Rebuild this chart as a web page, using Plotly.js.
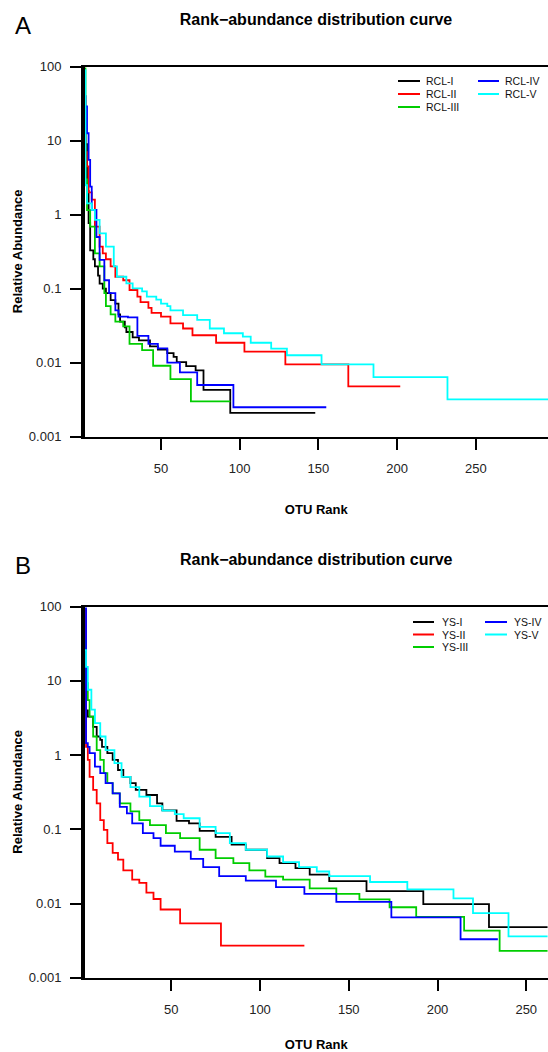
<!DOCTYPE html>
<html><head><meta charset="utf-8">
<script src="https://cdn.plot.ly/plotly-3.0.1.min.js"></script>
<style>html,body{margin:0;padding:0;background:#fff}#chart{width:548px;height:1052px}</style>
</head><body><div id="chart"></div>
<script>
// ---------- DATA ----------
const titleText = 'Rank\u2212abundance distribution curve';
const xTitle = 'OTU Rank';
const yTitle = 'Relative Abundance';
const xTickVals = [50, 100, 150, 200, 250];
const yTickVals = [0.001, 0.01, 0.1, 1, 10, 100];
const yTickText = ['0.001', '0.01', '0.1', '1', '10', '100'];
const colors = ['#000000', '#FF0000', '#00CD00', '#0000FF', '#00FFFF'];

// Panel A
const namesA = ['RCL-I', 'RCL-II', 'RCL-III', 'RCL-IV', 'RCL-V'];
const rcl1Rank = [1,2,3,4,5,7,8,10,11,13,15,18,21,23,24,27,28,32,36,43,48,54,58,60,66,72,77,94,148];
const rcl1Val  = [20,9,2.1,0.77,0.33,0.25,0.2,0.15,0.117,0.1,0.087,0.07,0.063,0.045,0.036,0.03,0.026,0.022,0.02,0.0166,0.015,0.0135,0.012,0.0102,0.009,0.0079,0.0043,0.0021,0.0021];
const rcl2Rank = [1,2,3,4,6,8,11,13,15,18,21,26,30,35,37,42,44,50,56,64,70,85,103,129,169,202];
const rcl2Val  = [40,7,4.5,2,1.6,0.69,0.37,0.3,0.25,0.2,0.145,0.13,0.096,0.078,0.066,0.055,0.047,0.042,0.034,0.029,0.0235,0.0186,0.0141,0.0095,0.0048,0.0048];
const rcl3Rank = [1,2,3,5,8,11,14,15,18,21,26,30,38,45,56,69,94];
const rcl3Val  = [95,3,1.15,0.69,0.3,0.2,0.087,0.058,0.045,0.036,0.031,0.018,0.0148,0.0091,0.006,0.003,0.003];
const rcl4Rank = [1,2,3,4,5,6,9,11,14,17,21,23,29,35,42,48,54,62,73,96,155];
const rcl4Val  = [40,29,12.6,5.5,2.4,1.16,0.5,0.245,0.13,0.087,0.051,0.042,0.041,0.023,0.018,0.0156,0.01,0.0074,0.005,0.0025,0.0025];
const rcl5Rank = [1,2,3,6,8,11,15,20,22,28,32,38,41,47,50,54,56,64,73,81,90,102,107,120,130,152,185,232,296];
const rcl5Val  = [90,2.5,1.42,1.16,0.85,0.56,0.37,0.2,0.145,0.118,0.101,0.092,0.078,0.071,0.063,0.058,0.051,0.044,0.038,0.029,0.025,0.0225,0.0186,0.0155,0.0126,0.0095,0.0064,0.0032,0.0032];

// Panel B
const namesB = ['YS-I', 'YS-II', 'YS-III', 'YS-IV', 'YS-V'];
const ys1Rank = [1,2,3,6,8,10,11,14,17,20,23,27,30,36,42,45,53,60,66,75,84,92,104,111,120,128,139,160,192,229,262];
const ys1Val  = [30,4,3.3,2.4,1.78,1.6,1.29,1.06,0.86,0.63,0.51,0.42,0.34,0.29,0.224,0.18,0.13,0.12,0.095,0.079,0.062,0.053,0.041,0.035,0.03,0.0245,0.02,0.0147,0.0098,0.0048,0.0048];
const ys2Rank = [1,2,3,4,6,8,10,12,14,17,20,23,28,32,36,40,44,55,78,125];
const ys2Val  = [90,1.29,0.86,0.51,0.34,0.224,0.133,0.098,0.065,0.048,0.039,0.028,0.021,0.019,0.014,0.0115,0.0083,0.0054,0.0027,0.0027];
const ys3Rank = [1,2,3,4,6,8,10,12,14,17,21,27,32,38,47,55,66,75,85,94,103,113,128,143,156,173,188,215,235,262];
const ys3Val  = [35,9.3,5.5,3.3,1.78,1.17,0.86,0.57,0.42,0.305,0.224,0.174,0.133,0.114,0.089,0.076,0.053,0.041,0.035,0.028,0.023,0.021,0.016,0.0135,0.0114,0.0089,0.0066,0.0043,0.0023,0.0023];
const ys4Rank = [1,2,3,4,7,10,13,17,21,25,28,34,40,44,52,61,68,77,92,109,125,143,174,213,234];
const ys4Val  = [95,1.45,1.29,1.06,0.7,0.57,0.42,0.305,0.2,0.164,0.12,0.089,0.076,0.06,0.05,0.04,0.031,0.0234,0.0204,0.0166,0.0135,0.0105,0.0065,0.0033,0.0033];
const ys5Rank = [1,2,3,5,7,10,13,18,22,27,32,38,45,52,57,66,75,83,92,104,113,122,132,139,162,183,209,220,240,262];
const ys5Val  = [26,15.5,7.6,4.1,2.7,1.78,1.17,0.78,0.51,0.37,0.275,0.205,0.178,0.16,0.141,0.108,0.089,0.065,0.053,0.043,0.036,0.031,0.027,0.0234,0.0195,0.0155,0.0117,0.0074,0.0036,0.0036];

// ---------- LAYOUT HELPERS ----------
const W = 548, H = 1052;
const FONT = 'Liberation Sans, Arial, sans-serif';
const px = x => x / W;
const py = y => 1 - y / H;

const seriesA = [[rcl1Rank, rcl1Val],[rcl2Rank, rcl2Val],[rcl3Rank, rcl3Val],[rcl4Rank, rcl4Val],[rcl5Rank, rcl5Val]];
const seriesB = [[ys1Rank, ys1Val],[ys2Rank, ys2Val],[ys3Rank, ys3Val],[ys4Rank, ys4Val],[ys5Rank, ys5Val]];

const traces = [];
seriesA.forEach((s, i) => traces.push({x: s[0], y: s[1], name: namesA[i], type: 'scatter', mode: 'lines',
  line: {color: colors[i], width: 1.8, shape: 'hv'}, xaxis: 'x', yaxis: 'y', showlegend: false}));
seriesB.forEach((s, i) => traces.push({x: s[0], y: s[1], name: namesB[i], type: 'scatter', mode: 'lines',
  line: {color: colors[i], width: 1.8, shape: 'hv'}, xaxis: 'x2', yaxis: 'y2', showlegend: false}));

function xAxis(range, anchor, standoff) {
  return {
    domain: [px(84.5), 1], range: range, anchor: anchor, fixedrange: true,
    tickvals: xTickVals, ticks: 'outside', ticklen: 11, tickwidth: 2, tickcolor: '#000',
    showline: true, linewidth: 2, linecolor: '#000', mirror: true,
    showgrid: false, zeroline: false, ticklabelstandoff: 8,
    tickfont: {family: FONT, size: 13, color: '#222'},
    title: {text: xTitle, font: {family: FONT, size: 13, color: '#000', weight: 'bold'}, standoff: standoff}
  };
}
function yAxis(anchor, yTop, yBot) {
  return {
    domain: [py(yBot), py(yTop)], type: 'log', range: [-3, 2], anchor: anchor, fixedrange: true,
    tickvals: yTickVals, ticktext: yTickText, ticks: 'outside', ticklen: 11, tickwidth: 2, tickcolor: '#000',
    showline: true, linewidth: 3.5, linecolor: '#000',
    showgrid: false, zeroline: false, ticklabelstandoff: 6,
    tickfont: {family: FONT, size: 13, color: '#222'}
  };
}

const shapes = [], annotations = [];
function legend(names, lineX, textX, rowsY) {
  const pos = [[0,0],[0,1],[0,2],[1,0],[1,1]];
  names.forEach((n, i) => {
    const c = pos[i][0], r = pos[i][1];
    shapes.push({type: 'line', xref: 'paper', yref: 'paper', x0: px(lineX[c][0]), x1: px(lineX[c][1]),
      y0: py(rowsY[r]), y1: py(rowsY[r]), line: {color: colors[i], width: 2}});
    annotations.push({xref: 'paper', yref: 'paper', x: px(textX[c]), y: py(rowsY[r]), xanchor: 'left', yanchor: 'middle',
      text: n, showarrow: false, font: {family: FONT, size: 10.5, color: '#111'}});
  });
}
legend(namesA, [[398, 420], [478, 499]], [424, 503], [81, 94, 107]);
legend(namesB, [[413, 434], [485, 507]], [440, 512], [622, 634.5, 647]);

// y-axis titles (rotated), panel letters, panel B title
[251.7, 792.2].forEach(yc => annotations.push({xref: 'paper', yref: 'paper', x: px(17.5), y: py(yc),
  xanchor: 'center', yanchor: 'middle', textangle: -90, text: yTitle, showarrow: false,
  font: {family: FONT, size: 13, color: '#000', weight: 'bold'}}));
annotations.push({xref: 'paper', yref: 'paper', x: px(22.7), y: py(25), xanchor: 'center', yanchor: 'middle',
  text: 'A', showarrow: false, font: {family: FONT, size: 24, color: '#000'}});
annotations.push({xref: 'paper', yref: 'paper', x: px(22.7), y: py(565), xanchor: 'center', yanchor: 'middle',
  text: 'B', showarrow: false, font: {family: FONT, size: 24, color: '#000'}});
annotations.push({xref: 'paper', yref: 'paper', x: px(316), y: py(559), xanchor: 'center', yanchor: 'middle',
  text: titleText, showarrow: false, font: {family: FONT, size: 16, color: '#000', weight: 'bold'}});

const layout = {
  width: W, height: H, margin: {l: 0, r: 0, t: 0, b: 0},
  paper_bgcolor: '#fff', plot_bgcolor: '#fff', showlegend: false,
  title: {text: titleText, font: {family: FONT, size: 16, color: '#000', weight: 'bold'},
    x: px(316), xref: 'paper', xanchor: 'center', y: py(19), yref: 'container', yanchor: 'middle'},
  xaxis: xAxis([(84.5 - 82.3) / 1.574, (548 - 82.3) / 1.574], 'y', 30),
  yaxis: yAxis('x', 66.7, 436.7),
  xaxis2: xAxis([(84.5 - 82.5) / 1.775, (548 - 82.5) / 1.775], 'y2', 24),
  yaxis2: yAxis('x2', 606.7, 977.7),
  shapes: shapes, annotations: annotations
};

Plotly.newPlot('chart', traces, layout, {staticPlot: true, displayModeBar: false});
</script>
</body></html>
